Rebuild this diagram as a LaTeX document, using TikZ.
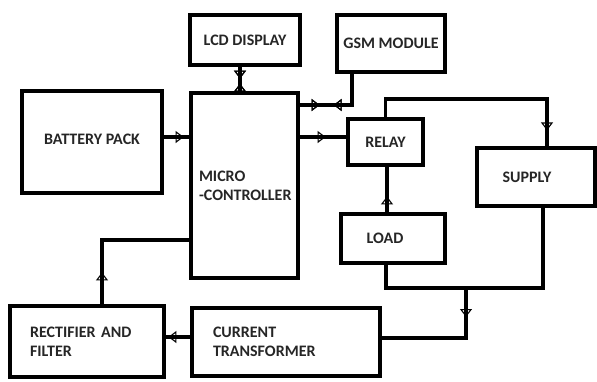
\documentclass[tikz,border=0pt]{standalone}
\usepackage{fontspec}
\setmainfont{Carlito}
\usetikzlibrary{arrows.meta,decorations.markings}
\begin{document}
\begin{tikzpicture}[x=1pt,y=-1pt,
  box/.style={draw=black,line width=3.2pt,minimum width=#1,inner sep=0pt,font=\bfseries\fontsize{16}{19}\selectfont,text=black!85},
  wire/.style={line width=3.2pt},
  fwd/.style={postaction={decorate},decoration={markings,mark=at position #1 with {\arrow[line width=1.1pt]{Triangle[open,length=8pt,width=12pt]}}}},
  rev/.style={postaction={decorate},decoration={markings,mark=at position #1 with {\arrowreversed[line width=1.1pt]{Triangle[open,length=8pt,width=12pt]}}}}
]
\useasboundingbox (0,0) rectangle (597,381);
% boxes
\node[box=110pt,minimum height=50pt] (lcd) at (245,40) {LCD DISPLAY};
\node[box=108pt,minimum height=57pt] (gsm) at (391,43.5) {GSM MODULE};
\node[box=140pt,minimum height=102pt] (bat) at (92,142) {\raisebox{5pt}{BATTERY PACK}};
\node[box=107pt,minimum height=185pt,inner xsep=8pt,text width=91pt,align=left] (mcu) at (244.5,185.5) {\raisebox{6pt}{\parbox{91pt}{\mbox{MICRO}\\\mbox{-CONTROLLER}}}};
\node[box=75pt,minimum height=46pt] (relay) at (385.5,142) {RELAY};
\node[box=118pt,minimum height=58pt] (supply) at (536,177) {\hspace*{-18pt}SUPPLY};
\node[box=104pt,minimum height=49pt] (load) at (393,238.5) {\hspace*{-16pt}LOAD};
\node[box=154pt,minimum height=71pt,inner xsep=20pt,text width=114pt,align=left] (rect) at (87,341.5) {\mbox{RECTIFIER AND}\\FILTER};
\node[box=188pt,minimum height=68pt,inner xsep=21pt,text width=146pt,align=left] (ct) at (286,342) {CURRENT\\TRANSFORMER};
% connectors
\coordinate (j) at (466,288);
\draw[wire,fwd=20pt] (bat.east |- 0,137) -- (mcu.west |- 0,137);
\draw[wire,fwd=12pt,rev=17pt] (lcd.south -| 240,0) -- (mcu.north -| 240,0);
\draw[wire,fwd=20pt,rev=34pt] (mcu.east |- 0,105) -- (352,105) -- (gsm.south -| 352,0);
\draw[wire,fwd=26pt] (mcu.east |- 0,137) -- (relay.west |- 0,137);
\draw[wire,fwd=-16pt] (relay.north) -- (385.5,99) -- (547,99) -- (supply.north -| 547,0);
\draw[wire,fwd=16pt] (load.north -| 387,0) -- (relay.south -| 387,0);
\draw[wire] (load.south -| 386,0) -- (386,288) -- (543,288) -- (supply.south -| 543,0);
\draw[wire,fwd=29pt] (j) |- (ct.east |- 0,338);
\draw[wire,fwd=22pt] (ct.west |- 0,337) -- (rect.east |- 0,337);
\draw[wire,fwd=32pt] (rect.north -| 102,0) |- (mcu.west |- 0,240);
\end{tikzpicture}
\end{document}
